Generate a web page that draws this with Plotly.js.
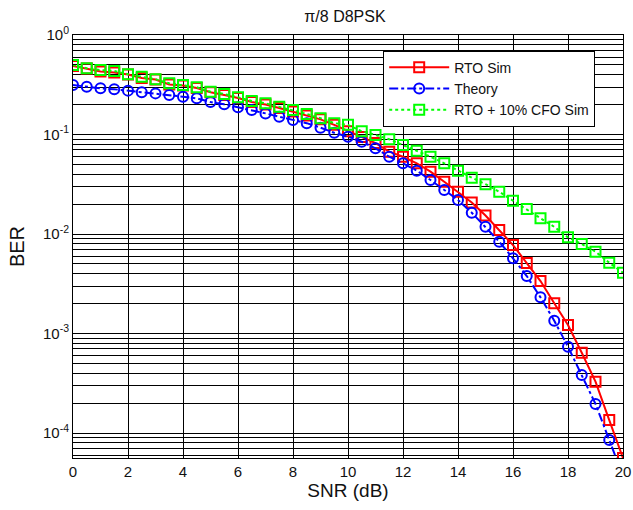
<!DOCTYPE html>
<html>
<head>
<meta charset="utf-8">
<script src="https://cdn.plot.ly/plotly-3.0.1.min.js"></script>
<style>html,body{margin:0;padding:0;background:#fff;}#chart{width:633px;height:510px;}</style>
</head>
<body>
<div id="chart"></div>
<script>
// SNR (dB)
const snr = [0,0.5,1,1.5,2,2.5,3,3.5,4,4.5,5,5.5,6,6.5,7,7.5,8,8.5,9,9.5,10,10.5,11,11.5,12,12.5,13,13.5,14,14.5,15,15.5,16,16.5,17,17.5,18,18.5,19,19.5,20];
// RTO Sim BER
const rtoSim = [0.488,0.461,0.430,0.420,0.401,0.370,0.357,0.318,0.311,0.293,0.266,0.250,0.233,0.212,0.200,0.185,0.170,0.155,0.142,0.125,0.108,0.0944,0.0821,0.0672,0.0598,0.0514,0.0423,0.0335,0.0266,0.0207,0.01535,0.01097,0.00775,0.00511,0.00337,0.00201,0.001217,0.000641,0.000328,0.000135,0.000056];
// Theory BER
const theory = [0.314,0.302,0.291,0.285,0.276,0.266,0.259,0.250,0.240,0.231,0.212,0.201,0.188,0.176,0.163,0.151,0.140,0.130,0.117,0.104,0.0950,0.0846,0.0727,0.0598,0.0514,0.0433,0.0349,0.0277,0.0220,0.01637,0.01184,0.00837,0.00570,0.00378,0.00231,0.001345,0.000737,0.000383,0.000196,0.000085,0.000037];
// RTO + 10% CFO Sim BER
const cfoSim = [0.499,0.463,0.445,0.435,0.403,0.381,0.359,0.327,0.314,0.298,0.269,0.255,0.237,0.217,0.206,0.190,0.176,0.161,0.146,0.130,0.125,0.108,0.0989,0.0895,0.0784,0.0687,0.0598,0.0514,0.0433,0.0368,0.0317,0.0266,0.0216,0.0178,0.0144,0.0118,0.00926,0.00793,0.00664,0.00515,0.00408];
// tick labels
const xTicks = [0,2,4,6,8,10,12,14,16,18,20];
const yTickVals = [1e-4,1e-3,1e-2,1e-1,1];
const yTickText = ['10<sup>-4</sup>','10<sup>-3</sup>','10<sup>-2</sup>','10<sup>-1</sup>','10<sup>0</sup>'];
const yMinorDecades = [1e-5,1e-4,1e-3,1e-2,1e-1];
const yMinorMult = [2,3,4,5,6,7,8,9];
const seriesNames = ['RTO Sim','Theory','RTO + 10% CFO Sim'];

const yMinorVals = [];
yMinorDecades.forEach(d => yMinorMult.forEach(m => yMinorVals.push(d * m)));

const font = 'Liberation Sans, Arial, sans-serif';
const traces = [
  {x: snr, y: rtoSim, name: seriesNames[0], mode: 'lines+markers',
   line: {color: '#ff0000', width: 2, dash: 'solid'},
   marker: {symbol: 'square-open', size: 10, color: '#ff0000', line: {width: 2, color: '#ff0000'}}},
  {x: snr, y: theory, name: seriesNames[1], mode: 'lines+markers',
   line: {color: '#0000ff', width: 2, dash: 'dashdot'},
   marker: {symbol: 'circle-open', size: 10, color: '#0000ff', line: {width: 2, color: '#0000ff'}}},
  {x: snr, y: cfoSim, name: seriesNames[2], mode: 'lines+markers',
   line: {color: '#00ff00', width: 2, dash: 'dot'},
   marker: {symbol: 'square-open', size: 10, color: '#00ff00', line: {width: 2, color: '#00ff00'}}}
];

const layout = {
  width: 633, height: 510,
  margin: {l: 73, r: 10, t: 35, b: 52},
  paper_bgcolor: '#fff', plot_bgcolor: '#fff',
  font: {family: font, color: '#111'},
  title: {text: 'π/8 D8PSK', font: {family: font, size: 16, color: '#111'}, x: 0.545, xanchor: 'center', y: 0.978, yanchor: 'top'},
  showlegend: true,
  legend: {x: 0.564, y: 0.963, xanchor: 'left', yanchor: 'top', bgcolor: '#fff', bordercolor: '#000', borderwidth: 1,
           font: {family: font, size: 14, color: '#111'}, itemwidth: 60, tracegroupgap: 0},
  xaxis: {
    range: [0, 20], tickvals: xTicks, ticktext: xTicks.map(String),
    showgrid: true, gridcolor: '#000', gridwidth: 1,
    showline: true, linecolor: '#000', linewidth: 1, mirror: 'ticks',
    ticks: 'inside', ticklen: 4, tickcolor: '#000',
    zeroline: false,
    tickfont: {family: font, size: 15, color: '#111'},
    title: {text: 'SNR (dB)', font: {family: font, size: 19, color: '#111'}, standoff: 2}
  },
  yaxis: {
    type: 'log', range: [-4.251, 0],
    tickvals: yTickVals, ticktext: yTickText,
    showgrid: true, gridcolor: '#000', gridwidth: 1,
    showline: true, linecolor: '#000', linewidth: 1, mirror: 'ticks',
    ticks: 'inside', ticklen: 4, tickcolor: '#000',
    zeroline: false,
    tickfont: {family: font, size: 15, color: '#111'},
    minor: {tickmode: 'array', tickvals: yMinorVals, showgrid: true, gridcolor: '#000', gridwidth: 1, ticks: 'inside', ticklen: 3, tickcolor: '#000'},
    title: {text: 'BER', font: {family: font, size: 20, color: '#111'}, standoff: 12}
  }
};

Plotly.newPlot('chart', traces, layout, {displayModeBar: false, staticPlot: true});
</script>
</body>
</html>
